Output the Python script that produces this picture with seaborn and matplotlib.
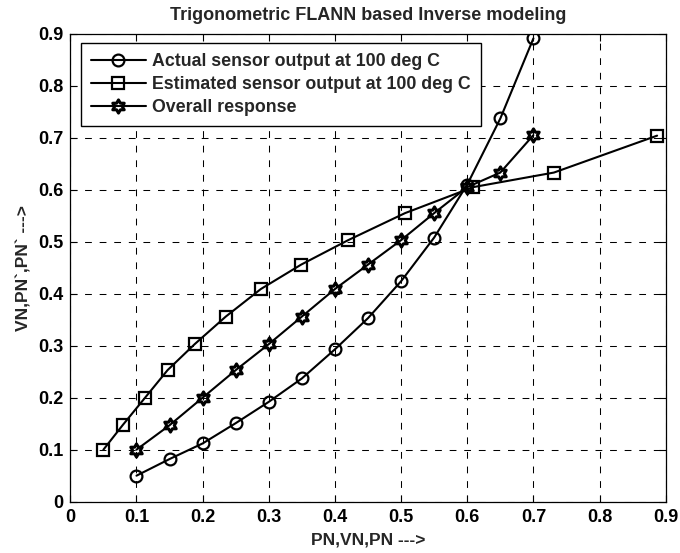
import numpy as np
import pandas as pd
import matplotlib
matplotlib.use("Agg")
import matplotlib.pyplot as plt
from matplotlib.path import Path
import seaborn as sns

# Data
actual_x = [0.10, 0.15, 0.20, 0.25, 0.30, 0.35, 0.40, 0.45, 0.50, 0.55, 0.60, 0.65, 0.70]
actual_y = [0.050, 0.082, 0.112, 0.151, 0.192, 0.237, 0.293, 0.353, 0.424, 0.508, 0.610, 0.737, 0.891]

est_x = [0.050, 0.079, 0.113, 0.147, 0.188, 0.235, 0.288, 0.349, 0.420, 0.506, 0.609, 0.731, 0.887]
est_y = [0.100, 0.147, 0.200, 0.253, 0.303, 0.356, 0.409, 0.456, 0.503, 0.555, 0.605, 0.633, 0.704]

overall_x = [0.10, 0.15, 0.20, 0.25, 0.30, 0.35, 0.40, 0.45, 0.50, 0.55, 0.60, 0.65, 0.70]
overall_y = [0.100, 0.147, 0.200, 0.253, 0.303, 0.356, 0.409, 0.456, 0.503, 0.555, 0.605, 0.633, 0.705]

labels = ["Actual sensor output at 100 deg C",
          "Estimated sensor output at 100 deg C",
          "Overall response"]
ticks = [0, 0.1, 0.2, 0.3, 0.4, 0.5, 0.6, 0.7, 0.8, 0.9]
tick_labels = ["0", "0.1", "0.2", "0.3", "0.4", "0.5", "0.6", "0.7", "0.8", "0.9"]

sns.set_theme(style="white")
plt.rcParams['font.family'] = ['Liberation Sans', 'DejaVu Sans']
plt.rcParams['font.weight'] = 'bold'

fig = plt.figure(figsize=(6.8, 5.53), dpi=100)
ax = fig.add_axes([0.1034, 0.0928, 0.979 - 0.1034, 0.939 - 0.0928])

# hexagram (six-pointed star) marker shape, like MATLAB's 'hexagram'
ang = np.pi / 2 + np.arange(12) * np.pi / 6
rad = np.where(np.arange(12) % 2 == 0, 1.0, 0.577)
verts = np.column_stack([rad * np.cos(ang), rad * np.sin(ang)])
verts = np.vstack([verts, verts[:1]])
codes = [Path.MOVETO] + [Path.LINETO] * 11 + [Path.CLOSEPOLY]
hexagram = Path(verts, codes)

series = [
    (actual_x, actual_y, labels[0], 'o', 8.5, 1.6),
    (est_x, est_y, labels[1], 's', 8, 1.6),
    (overall_x, overall_y, labels[2], hexagram, 9.5, 2.2),
]
for xs, ys, lab, mk, ms, mew in series:
    df = pd.DataFrame({"x": xs, "y": ys})
    sns.lineplot(data=df, x="x", y="y", ax=ax, color="black", linewidth=1.5,
                 marker=mk, markersize=ms, markerfacecolor='none',
                 markeredgecolor="black", markeredgewidth=mew,
                 label=lab, sort=False)

ax.set_xlim(0, 0.9)
ax.set_ylim(0, 0.9)
ax.set_xticks(ticks)
ax.set_xticklabels(tick_labels)
ax.set_yticks(ticks)
ax.set_yticklabels(tick_labels)
ax.tick_params(axis='both', labelsize=13, direction='in', length=5, width=0.8,
               top=True, right=True, bottom=True, left=True, colors='black', pad=5)
for lab in ax.get_xticklabels() + ax.get_yticklabels():
    lab.set_fontweight('bold')

ax.grid(True, color='black', linestyle=(0, (6.5, 7.5)), linewidth=0.75)
for s in ax.spines.values():
    s.set_color('black')
    s.set_linewidth(0.9)

ax.set_title("Trigonometric FLANN based Inverse modeling", fontsize=13,
             fontweight='bold', pad=10)
ax.set_xlabel("PN,VN,PN --->", fontsize=12.5, fontweight='bold', labelpad=5)
ax.set_ylabel("VN,PN`,PN` --->", fontsize=12.5, fontweight='bold', labelpad=5)

leg = ax.legend(loc='upper left', bbox_to_anchor=(0.018, 0.980), borderaxespad=0,
                frameon=True, fancybox=False, edgecolor='black', framealpha=1,
                prop={'weight': 'bold', 'size': 12.8}, handlelength=3.1,
                borderpad=0.55, labelspacing=0.35, handletextpad=0.35)
leg.get_frame().set_linewidth(1.0)

fig.savefig("out.png", dpi=100, facecolor='white')
